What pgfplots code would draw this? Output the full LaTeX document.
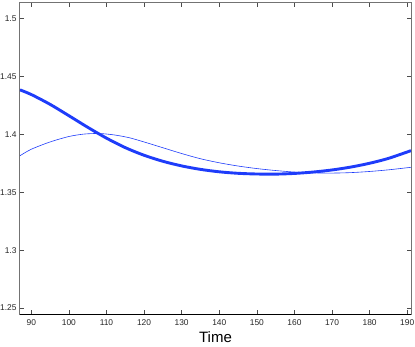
\documentclass[border=0pt]{standalone}
\usepackage{fontspec}
\setmainfont{Liberation Sans}
\usepackage{pgfplots}
\pgfplotsset{compat=1.18}
\definecolor{lineblue}{RGB}{30,60,250}
\begin{document}
\begin{tikzpicture}
\begin{axis}[
    name=ax,
    scale only axis, width=391pt, height=311pt,
    xmin=87, xmax=191, ymin=1.2448, ymax=1.5136,
    xtick={90,100,...,190},
    ytick={1.25,1.3,1.35,1.4,1.45,1.5},
    yticklabels={1.25,1.3,1.35,1.4,1.45,1.5},
    tick align=inside, major tick length=4pt,
    xtick pos=both, ytick pos=both,
    ticklabel style={font=\fontsize{8.4}{10}\selectfont, text=black!85},
    xticklabel style={yshift=-2pt},
    /pgf/number format/assume math mode=true,
    axis line style={draw=black!55, line width=1pt},
    tick style={black!70, line width=0.6pt},
    xlabel={Time},
    xlabel style={font=\fontsize{15}{17}\selectfont, at={(axis description cs:0.5,0)},
        anchor=north, inner sep=0pt, yshift=-17pt},
    every axis plot/.append style={smooth, no markers, lineblue},
]
\addplot[line width=2.9pt] coordinates {
(87,1.4385) (90,1.4345) (95,1.4260) (100,1.4162) (105,1.4062) (110,1.3968)
(115,1.3886) (120,1.3820) (125,1.3768) (130,1.3728) (135,1.3698) (140,1.3677)
(145,1.3664) (150,1.3658) (155,1.3657) (160,1.3663) (165,1.3675) (170,1.3693)
(175,1.3718) (180,1.3751) (185,1.3793) (191,1.3860)};
\addplot[line width=0.6pt] coordinates {
(87,1.3816) (90,1.3872) (95,1.3935) (100,1.3982) (104,1.4003) (108,1.4008)
(112,1.3996) (116,1.3972) (120,1.3935) (125,1.3885) (130,1.3835) (135,1.3790)
(140,1.3755) (145,1.3727) (150,1.3705) (155,1.3688) (160,1.3675) (165,1.3668)
(170,1.3666) (175,1.3670) (180,1.3680) (185,1.3694) (191,1.3716)};
\draw[black, line width=1pt] (rel axis cs:0,0) -- (rel axis cs:1,0);
\end{axis}
\pgfresetboundingbox
\path ([shift={(-20pt,-32pt)}]ax.south west) rectangle ([shift={(4pt,3pt)}]ax.north east);
\end{tikzpicture}
\end{document}
